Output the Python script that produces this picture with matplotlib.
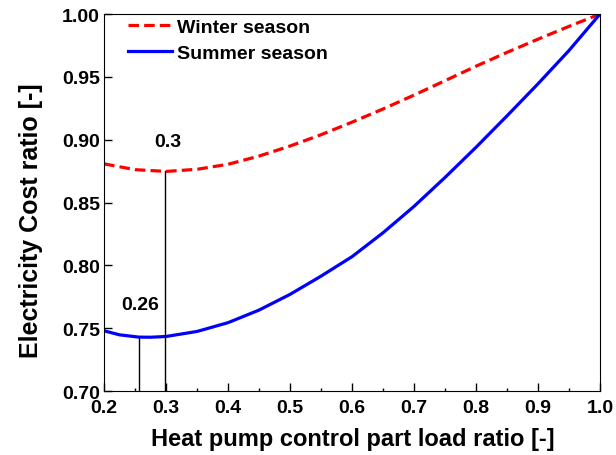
import numpy as np
import matplotlib
matplotlib.use("Agg")
import matplotlib.pyplot as plt
from matplotlib.ticker import MultipleLocator

plt.rcParams['font.family'] = ['Liberation Sans', 'DejaVu Sans']
plt.rcParams['font.weight'] = 'bold'

# data
winter_x = [0.20, 0.25, 0.30, 0.35, 0.40, 0.45, 0.50, 0.55, 0.60, 0.65,
            0.70, 0.75, 0.80, 0.85, 0.90, 0.95, 1.00]
winter = [0.8808, 0.8762, 0.8748, 0.8765, 0.8805, 0.8870, 0.8950, 0.9040, 0.9140, 0.9245,
          0.9355, 0.9470, 0.9585, 0.9695, 0.9800, 0.9902, 1.000]
summer_x = [0.20, 0.225, 0.256, 0.275, 0.30, 0.35, 0.40, 0.45, 0.50, 0.55, 0.60, 0.65,
            0.70, 0.75, 0.80, 0.85, 0.90, 0.95, 1.00]
summer = [0.748, 0.7448, 0.7430, 0.7429, 0.7435, 0.7475, 0.7545, 0.7645, 0.7770, 0.7915,
          0.8070, 0.8260, 0.8470, 0.8700, 0.8940, 0.9190, 0.9445, 0.9710, 1.000]
min_x = [0.2565, 0.2990]
min_y = [0.7430, 0.8748]
min_lbl = ['0.26', '0.3']
lbl_pos = [(0.258, 0.769), (0.302, 0.8985)]

fig = plt.figure(figsize=(6.16, 4.56), dpi=100)
ax = fig.add_axes([0.169, 0.140, 0.805, 0.827])

ax.plot(winter_x, winter, color='#ff0000', lw=2.3, ls=(0, (3.3, 1.6)), label='Winter season')
ax.plot(summer_x, summer, color='#0000ff', lw=2.3, label='Summer season')

# vertical markers at minimum points
for x, y in zip(min_x, min_y):
    ax.plot([x, x], [0.70, y], color='black', lw=1.0)
for (tx, ty), s in zip(lbl_pos, min_lbl):
    ax.text(tx, ty, s, fontsize=14, fontweight='bold', ha='center', va='center')

ax.set_xlim(0.2, 1.0)
ax.set_ylim(0.70, 1.00)
ax.xaxis.set_major_locator(MultipleLocator(0.1))
ax.xaxis.set_minor_locator(MultipleLocator(0.05))
ax.yaxis.set_major_locator(MultipleLocator(0.05))
ax.xaxis.set_major_formatter(plt.FormatStrFormatter('%.1f'))
ax.yaxis.set_major_formatter(plt.FormatStrFormatter('%.2f'))
ax.tick_params(which='both', direction='in', labelsize=14)
ax.tick_params(which='major', length=5.5, width=1)
ax.tick_params(which='minor', length=2.5, width=1)
ax.tick_params(axis='x', pad=6)
ax.tick_params(axis='y', pad=3)
for lab in ax.get_xticklabels() + ax.get_yticklabels():
    lab.set_fontweight('bold')

ax.set_xlabel('Heat pump control part load ratio [-]', fontsize=17, fontweight='bold')
ax.set_ylabel('Electricity Cost ratio [-]', fontsize=18, fontweight='bold')
ax.xaxis.set_label_coords(0.502, -0.095)
ax.yaxis.set_label_coords(-0.123, 0.455)

ax.legend(loc='upper left', frameon=False, fontsize=14, handlelength=2.27,
          handletextpad=0.26, borderpad=0, borderaxespad=0, labelspacing=0.44,
          bbox_to_anchor=(0.048, 0.989))

fig.savefig('out.png', dpi=100)
